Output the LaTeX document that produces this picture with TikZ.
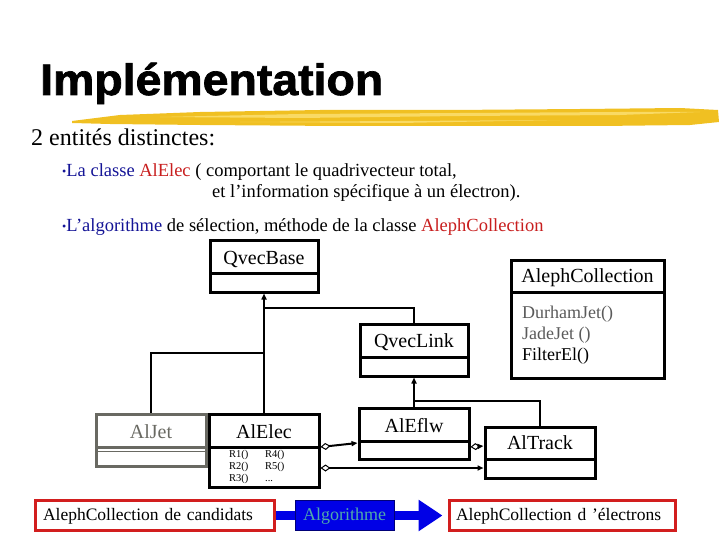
\documentclass[tikz,border=0pt]{standalone}
\usepackage{fontspec}
\setmainfont{Liberation Serif}
\newfontfamily\titlefont[FakeBold=1.6]{Liberation Sans Bold}
\usepackage{graphicx}
\usetikzlibrary{arrows.meta}
\definecolor{txtblue}{RGB}{20,20,150}
\definecolor{txtred}{RGB}{200,30,30}
\definecolor{jetgray}{RGB}{105,105,98}
\definecolor{methgray}{RGB}{90,90,90}
\definecolor{boxred}{RGB}{210,30,30}
\definecolor{algblue}{RGB}{0,0,230}
\definecolor{algnavy}{RGB}{0,0,120}
\definecolor{algtext}{RGB}{80,170,170}
\definecolor{brushA}{RGB}{240,192,34}
\definecolor{brushB}{RGB}{249,218,100}
\begin{document}
\begin{tikzpicture}[x=1pt,y=-1pt,
  lbl/.style={anchor=base, inner sep=0pt, font=\fontsize{20}{20}\selectfont},
  txt/.style={anchor=base west, inner sep=0pt},
  meth/.style={anchor=base west, inner sep=0pt, font=\fontsize{18}{18}\selectfont},
  small/.style={anchor=base west, inner sep=0pt, font=\fontsize{10.5}{10.5}\selectfont},
  umlbox/.style={draw, line width=3pt, inner sep=0pt},
  divider/.style={line width=3pt},
  conn/.style={line width=2pt},
  inh/.style={conn, -{Triangle[length=6pt,width=5pt]}},
  agg/.style={conn, {Diamond[open,length=10pt,width=7pt,line width=1pt]}-{Triangle[length=6pt,width=5pt]}},
  redbox/.style={draw=boxred, line width=3pt, fill=white, inner ysep=6.5pt, text height=13pt, text depth=4pt, font=\fontsize{17.5}{17.5}\selectfont, align=left},
  algobox/.style={draw=algnavy, line width=1pt, fill=algblue, text=algtext, minimum width=99pt, inner ysep=6.5pt, text height=13pt, text depth=4pt, font=\fontsize{18}{18}\selectfont},
  bigarrow/.style={algblue, line width=9pt}
]
\useasboundingbox (0,0) rectangle (720,540);

% brush stroke under the title
\fill[brushA] (72,121) -- (120,115) -- (200,112) -- (320,110) -- (450,110) -- (580,109) -- (680,108) -- (718,110) -- (719,122) -- (690,125) -- (600,126) -- (480,126) -- (340,126) -- (200,125) -- (110,124) -- (72,123) -- cycle;
\fill[brushB] (160,117) -- (300,114) -- (460,113) -- (620,112) -- (700,112) -- (620,115) -- (460,116) -- (300,118) -- cycle;
\fill[brushB] (240,122) -- (400,121) -- (560,120) -- (400,123) -- cycle;

% title and texts
\node[txt] (title) at (40,95) {\titlefont\fontsize{44}{44}\selectfont\scalebox{1.055}[1]{Implémentation}};
\node[txt, font=\fontsize{24}{24}\selectfont] (sub) at (31,146) {2 entités distinctes:};
\node[txt, font=\fontsize{18.5}{18.5}\selectfont] (b1) at (62,177) {\textcolor{txtblue}{\raisebox{1pt}{\fontsize{12}{12}\selectfont\textbullet}La classe} \textcolor{txtred}{AlElec} ( comportant le quadrivecteur total,};
\node[txt, font=\fontsize{18.5}{18.5}\selectfont] (b2) at (212,198) {et l’information spécifique à un électron).};
\node[txt, font=\fontsize{18.5}{18.5}\selectfont] (b3) at (62,231) {\textcolor{txtblue}{\raisebox{1pt}{\fontsize{12}{12}\selectfont\textbullet}L’algorithme} de sélection, méthode de la classe \textcolor{txtred}{AlephCollection}};

% QvecBase
\node[umlbox, minimum width=108pt, minimum height=52pt] (qb) at (264,266) {};
\draw[divider] (210,273) -- (318,273);
\node[lbl] (qbt) at (264,264) {QvecBase};

% QvecLink
\node[umlbox, minimum width=108pt, minimum height=52pt] (ql) at (414,350) {};
\draw[divider] (360,357) -- (468,357);
\node[lbl] (qlt) at (414,347) {QvecLink};

% AlephCollection
\node[umlbox, minimum width=153pt, minimum height=118pt] (ac) at (587.5,319) {};
\draw[divider] (511,292) -- (664,292);
\node[lbl] (act) at (587.5,282) {AlephCollection};
\node[meth, text=methgray] (m1) at (522,318) {DurhamJet()};
\node[meth, text=methgray] (m2) at (522,339) {JadeJet ()};
\node[meth] (m3) at (522,360) {FilterEl()};

% AlJet
\node[umlbox, draw=jetgray, minimum width=110pt, minimum height=52pt] (aj) at (151,440) {};
\draw[divider, jetgray] (96,447) -- (206,447);
\draw[line width=1pt, jetgray] (96,451.5) -- (206,451.5);
\node[lbl, text=jetgray] (ajt) at (151,438) {AlJet};

% AlElec
\node[umlbox, minimum width=110pt, minimum height=73pt] (ae) at (264,450.5) {};
\draw[divider] (209,447) -- (319,447);
\node[lbl] (aet) at (264,438) {AlElec};
\node[small] (r1) at (229,457) {R1()};
\node[small] (r2) at (229,469) {R2()};
\node[small] (r3) at (229,481) {R3()};
\node[small] (r4) at (265,457) {R4()};
\node[small] (r5) at (265,469) {R5()};
\node[small] (r6) at (265,481) {...};

% AlEflw
\node[umlbox, minimum width=110pt, minimum height=51pt] (af) at (414,433.5) {};
\draw[divider] (359,441) -- (469,441);
\node[lbl] (aft) at (414,432) {AlEflw};

% AlTrack
\node[umlbox, minimum width=110pt, minimum height=51pt] (trk) at (540,452.5) {};
\draw[divider] (485,459) -- (595,459);
\node[lbl] (trkt) at (540,449) {AlTrack};

% inheritance connectors
\coordinate (j1) at (264,308);
\coordinate (j2) at (264,353);
\coordinate (j3) at (414,401);
\draw[inh] (ae.north) -- (qb.south);
\draw[conn] (ql.north) |- (j1);
\draw[conn] (aj.north) |- (j2);
\draw[inh] (af.north) -- (ql.south);
\draw[conn] (trk.north) |- (j3);

% aggregation connectors
\coordinate (ya) at (0,447);
\coordinate (yb) at (0,443);
\coordinate (yc) at (0,468);
\coordinate (yd) at (0,446);
\draw[agg] (ae.east |- ya) -- (af.west |- yb);
\draw[agg] (ae.east |- yc) -- (trk.west |- yc);
\draw[agg] (af.east |- ya) -- (trk.west |- yd);

% bottom row
\node[redbox, text width=223pt, inner xsep=8pt] (cand) at (154.5,515.5) {AlephCollection de candidats};
\node[algobox] (algo) at (344.5,515.5) {Algorithme};
\node[redbox, text width=212pt, inner xsep=7pt] (elec) at (562,515.5) {AlephCollection d~’électrons};
\draw[bigarrow] (cand.east) -- (algo.west);
\draw[bigarrow, -{Triangle[length=24pt,width=30pt]}, shorten >=5pt] (algo.east) -- (elec.west);
\end{tikzpicture}
\end{document}
